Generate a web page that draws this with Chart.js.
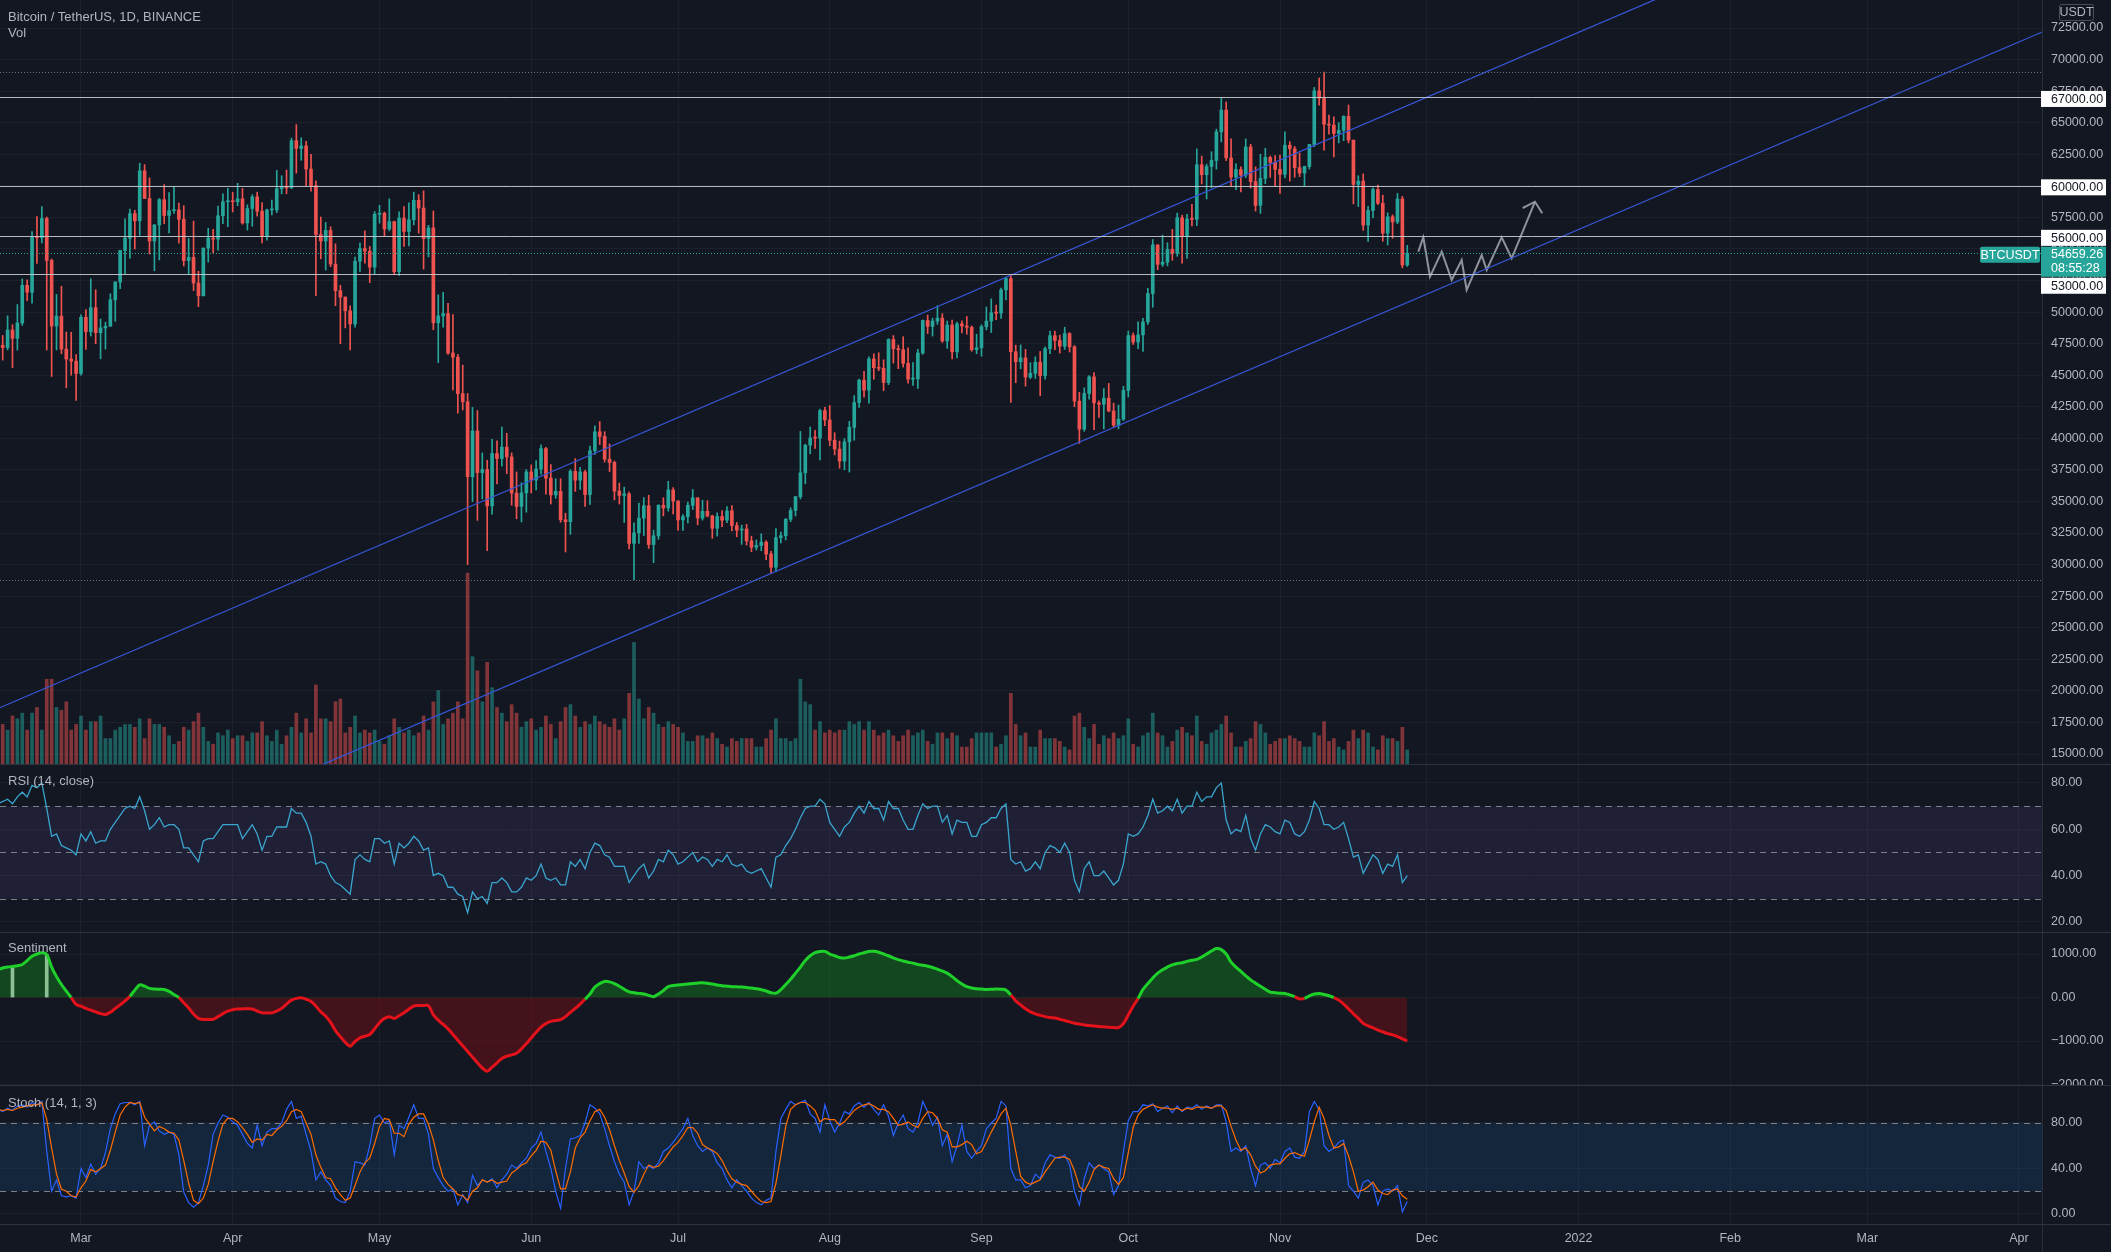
<!DOCTYPE html>
<html>
<head>
<meta charset="utf-8">
<title>BTCUSDT 1D</title>
<script src="https://cdn.jsdelivr.net/npm/chart.js@4.4.1/dist/chart.umd.min.js"></script>
<style>
  html, body { margin:0; padding:0; background:#131722; }
  #wrap { position:relative; width:2111px; height:1252px; background:#131722; overflow:hidden; }
  #wrap canvas { position:absolute; left:0; display:block; }
</style>
</head>
<body>
<div id="wrap">
  <canvas id="cMain" width="2111" height="764" style="top:0px;width:2111px;height:764px"></canvas>
  <canvas id="cRsi" width="2111" height="168" style="top:764px;width:2111px;height:168px"></canvas>
  <canvas id="cSent" width="2111" height="153" style="top:932px;width:2111px;height:153px"></canvas>
  <canvas id="cStoch" width="2111" height="167" style="top:1085px;width:2111px;height:167px"></canvas>
</div>
<script>
// ================= DATA (daily, first candle = firstDate, one value per day) =================
const firstDate = '2021-02-12';

const open = [
47900,47370,47190,48580,47920,49140,52120,51570,55920,55890,57410,54090,48890,49680,47070,46280,46110,
45140,49590,48440,50350,48370,48750,48880,50970,52380,54880,55860,57800,57230,61190,59000,55630,56900,58910,57650,58030,58100,57350,54080,54340,52300,51290,55070,55860,55780,57630,58740,
58790,58740,58970,57060,58200,59130,57990,56000,58090,58090,59770,59960,59840,63580,62960,63160,61330,60010,56150,55630,56470,53800,51700,51190,50100,49060,54030,55030,54830,53560,
57750,57830,56580,57170,53200,57440,56390,57310,58860,58240,55820,56670,49150,49700,49880,46760,46430,43540,42900,36960,40590,37280,37530,34650,38800,38400,39300,38530,35660,34610,35680,
37340,36690,37570,39190,36850,35520,35800,33550,33400,37390,36690,37340,35550,39020,40520,40150,38350,38090,35820,35480,35600,31680,32510,33680,34660,31590,32280,34700,34490,35910,
35040,33540,33800,34700,35290,33690,34220,33860,32880,33810,33520,34260,33090,32730,32820,31880,31380,31520,31780,30840,29790,32140,32290,33590,34290,35380,37270,39460,40030,40020,42200,
41460,39850,39150,38200,39720,40870,42840,44610,43820,46290,45600,45550,44420,47830,47100,47020,45940,44690,44710,46760,49340,48870,49290,49520,47710,48970,46850,49070,48900,48800,47020,
47170,48850,49290,49940,49920,51760,52660,46860,46070,46370,44850,45150,46030,44960,47100,48130,47750,47300,48300,47250,42950,40720,43550,44870,42810,42700,43180,42170,41030,41520,
43790,48140,47630,48200,49220,51470,55320,53790,53950,54960,54660,57470,56000,57370,57350,61670,60880,61530,62010,64280,66000,62210,60690,61290,60850,63080,60330,58450,60590,62250,61860,
61300,60910,63220,62930,61440,61010,61530,63270,67530,66940,64880,64810,64150,64400,65500,63620,60110,60370,56890,58050,59710,58620,56250,57550,57140,58960,53730
];
const high = [
48985,48150,49700,49000,50600,52620,52550,56370,57560,58350,57530,54200,51400,52050,48420,48400,46640,
49790,50200,52640,51770,49450,49200,51450,52400,54900,57390,58150,58060,61790,61680,60630,56940,58990,60100,59470,59880,58640,58430,55830,57200,53240,55080,56640,56560,58400,59370,59800,
59490,60200,59790,58500,59300,59500,58670,58150,58870,61220,60800,61250,63780,64850,63800,63520,62500,60400,57530,57100,56760,55400,52130,51200,50500,54350,55460,56430,55200,57960,
58460,57930,58970,57200,57940,58360,58650,59500,59300,59600,56870,58000,51370,51560,50700,49800,46650,45800,43550,42450,42200,38850,38270,39920,39800,40900,40400,38850,37340,36480,37530,
37900,38230,39480,39290,37920,36800,36800,34070,37530,38400,37700,37460,39380,41000,41330,40530,39560,38200,36460,36140,35750,33300,34880,35300,35500,32730,34750,35300,36600,36100,
35060,33970,34950,35950,35290,35100,35060,33910,34100,34270,34600,34680,33340,33130,33190,32250,31950,32440,31900,31060,32860,32580,33650,34500,35400,40550,39540,40900,40640,42320,42450,
42600,40450,39780,39970,41350,43390,44700,45310,46450,46700,46780,46220,47890,48140,47390,48050,47160,46000,47050,49380,49760,49520,50500,49880,49290,49360,49200,49300,49650,48900,48250,
49000,50400,51050,50560,51900,52780,52920,47380,47400,47040,45990,46460,46880,47250,48490,48500,48170,48800,48370,47350,43640,44000,44980,45200,42970,43950,44350,42790,42640,44130,
48500,48350,49230,49500,51890,55750,55330,56100,55490,56550,57840,57680,57750,58530,62930,62350,61720,62700,64490,67000,66640,63730,61750,61500,63710,63290,61500,62500,62980,62360,62400,
62440,64270,63500,63120,62600,61560,63290,67790,68530,69000,65600,65460,65000,65550,66400,63620,60800,60950,58370,59850,60050,59260,57870,57700,59400,59170,55280
];
const low = [
46400,46200,47000,45600,47000,48950,50900,50700,53860,55480,47000,44900,47000,46700,44000,45000,43000,
45000,47050,48100,47500,46300,47070,48880,49270,51850,53000,54270,55000,56080,59000,54600,53270,54130,57000,56270,57820,55450,53650,53000,51700,50430,51280,53960,54690,54900,57000,56770,
57930,58430,56960,56500,56800,57600,55470,55700,57700,57870,59360,59370,59770,61000,62020,60000,59580,51300,54220,53330,53600,50500,47500,48750,47000,48800,53220,53880,52330,53010,
57050,56030,56440,53000,52900,55200,55240,56900,56250,53400,54370,48600,46000,48800,46650,43830,42000,42250,30000,35000,33500,35200,31100,34000,36400,37800,37200,34700,33630,33380,34150,
35670,35920,37170,35570,34800,35250,33350,31000,32400,35800,35950,34600,34760,38730,39510,38120,37370,35130,34800,33340,31250,28800,31680,32300,31280,30150,32000,33860,34230,34020,
32710,32700,33310,34360,33150,33520,33770,32080,32260,33000,33330,32660,32200,31600,31550,31020,31160,31100,30400,29280,29480,31710,31950,33400,33850,35200,36400,38770,39200,38300,41000,
39420,38690,37640,37510,37330,39850,42450,43260,42780,44680,45350,43770,44250,45960,45520,45650,44380,44200,43960,46650,48300,48100,49030,47600,47120,46300,46380,48350,48250,46900,46700,
46510,48590,48380,49400,49500,50970,42840,44410,45510,44130,44720,44740,43370,44680,46700,47020,46750,47040,46840,42500,39600,40560,43100,40680,41650,40750,42100,40890,40750,41410,
43280,47430,47100,46890,49020,50380,53360,53620,53660,54100,54420,53880,54250,56820,56850,60150,58960,59850,61320,63480,62000,60000,59700,59510,60650,59820,58000,57820,60170,60670,59930,
59400,60620,60380,60680,60720,60000,61330,63100,66380,62820,64100,62280,63400,63580,63400,58570,58370,56470,55600,57460,58500,55610,55320,55840,57000,53500,53610
];
const close = [
47370,47190,48580,47920,49140,52120,51570,55920,55890,57410,54090,48890,49680,47070,46280,46110,45140,
49590,48440,50350,48370,48750,48880,50970,52380,54880,55860,57800,57230,61190,59000,55630,56900,58910,57650,58030,58100,57350,54080,54340,52300,51290,55070,55860,55780,57630,58740,58790,
58740,58970,57060,58200,59130,57990,56000,58090,58090,59770,59960,59840,63580,62960,63160,61330,60010,56150,55630,56470,53800,51700,51190,50100,49060,54030,55030,54830,53560,57750,
57830,56580,57170,53200,57440,56390,57310,58860,58240,55820,56670,49150,49700,49880,46760,46430,43540,42900,36960,40590,37280,37530,34650,38800,38400,39300,38530,35660,34610,35680,37340,
36690,37570,39190,36850,35520,35800,33550,33400,37390,36690,37340,35550,39020,40520,40150,38350,38090,35820,35480,35600,31680,32510,33680,34660,31590,32280,34700,34490,35910,35040,
33540,33800,34700,35290,33690,34220,33860,32880,33810,33520,34260,33090,32730,32820,31880,31380,31520,31780,30840,29790,32140,32290,33590,34290,35380,37270,39460,40030,40020,42200,41460,
39850,39150,38200,39720,40870,42840,44610,43820,46290,45600,45550,44420,47830,47100,47020,45940,44690,44710,46760,49340,48870,49290,49520,47710,48970,46850,49070,48900,48800,47020,47170,
48850,49290,49940,49920,51760,52660,46860,46070,46370,44850,45150,46030,44960,47100,48130,47750,47300,48300,47250,42950,40720,43550,44870,42810,42700,43180,42170,41030,41520,43790,
48140,47630,48200,49220,51470,55320,53790,53950,54960,54660,57470,56000,57370,57350,61670,60880,61530,62010,64280,66000,62210,60690,61290,60850,63080,60330,58450,60590,62250,61860,61300,
60910,63220,62930,61440,61010,61530,63270,67530,66940,64880,64810,64150,64400,65500,63620,60110,60370,56890,58050,59710,58620,56250,57550,57140,58960,53730,54659.26
];
// volume, thousand BTC
const volume = [
70,70,60,85,80,90,60,90,100,60,150,150,100,95,110,60,70,
85,60,75,75,85,45,45,60,65,70,70,65,80,45,80,70,70,65,50,35,40,65,60,75,90,65,40,35,55,50,60,
45,50,50,40,55,55,75,50,40,60,35,50,65,90,55,80,55,140,80,80,75,110,115,55,65,85,55,60,55,60,
40,35,50,80,65,55,60,50,55,85,60,110,130,70,80,90,110,80,338,190,165,110,180,135,100,90,75,105,90,65,75,
80,60,65,85,70,45,75,100,105,85,65,75,70,85,75,70,65,80,60,80,125,215,115,80,100,90,70,65,75,70,
65,55,40,40,50,50,45,55,45,35,30,45,40,45,45,45,30,30,45,60,80,45,45,40,45,150,110,105,60,75,55,
60,55,60,60,75,70,75,60,75,60,50,55,60,50,40,50,60,50,55,60,40,35,55,55,45,55,50,30,30,45,55,
55,55,55,30,35,50,125,70,50,55,30,30,60,45,45,45,40,30,25,85,90,65,45,70,35,50,45,55,45,50,
80,35,30,50,55,90,55,50,30,40,60,65,55,50,85,40,35,55,60,70,85,55,30,30,40,45,75,70,55,35,40,
45,45,50,45,40,30,30,55,50,75,40,45,30,25,40,60,45,60,55,30,25,50,45,45,40,65,25
];
const rsi = [
71,72,73,71,74,76,74,79,78,80,69,57,58,53,52,51,49,
58,55,59,54,55,55,60,63,66,69,70,69,74,68,60,62,65,61,62,62,60,52,52,49,46,55,56,56,59,62,62,
62,62,56,59,62,58,51,57,57,61,61,61,69,67,67,63,57,45,46,45,40,37,36,34,32,47,49,47,46,56,
56,54,55,45,54,52,54,57,55,51,52,40,41,40,35,35,32,31,24,33,30,31,28,37,37,39,37,33,33,35,39,
38,40,45,39,38,39,36,36,46,44,47,43,50,54,53,49,48,44,44,44,37,40,43,45,39,42,47,46,51,49,
45,46,48,50,46,48,47,44,47,46,49,45,44,45,42,41,42,43,39,35,48,49,53,56,60,65,69,70,70,73,71,
63,60,57,61,63,67,70,67,72,69,69,64,72,69,69,64,60,60,66,71,69,70,70,63,66,58,64,63,63,57,57,
62,63,65,65,69,71,47,45,46,42,43,46,43,50,53,52,50,54,50,38,33,43,46,40,40,42,39,36,38,45,
58,57,58,61,66,73,67,68,70,68,73,67,70,70,76,72,74,74,78,80,64,58,60,59,66,56,51,58,62,61,59,
58,64,63,58,57,59,64,72,69,62,62,60,61,63,56,48,49,41,45,49,47,41,45,44,49,37,40
];
const sentiment = [
640,680,700,715,730,760,850,950,1000,1027,989,700,480,300,146,0,-160,
-200,-250,-290,-330,-370,-390,-340,-250,-170,-80,30,170,290,260,210,195,190,184,140,70,0,-120,-240,-380,-480,-506,-506,-500,-440,-370,-315,
-280,-265,-261,-261,-265,-310,-353,-353,-353,-310,-250,-150,-60,-20,-7,-40,-90,-200,-330,-430,-570,-760,-900,-1030,-1119,-1010,-927,-890,-851,-720,
-580,-480,-440,-480,-420,-350,-270,-200,-184,-184,-190,-400,-520,-620,-720,-850,-980,-1110,-1240,-1370,-1500,-1620,-1693,-1600,-1500,-1400,-1349,-1320,-1280,-1180,-1060,
-930,-800,-680,-600,-550,-530,-510,-440,-340,-250,-150,-40,80,240,320,370,360,320,260,190,130,110,95,80,50,20,80,160,250,275,
290,299,310,320,335,340,330,310,290,270,260,250,245,240,230,220,200,180,150,110,100,180,300,420,560,700,850,960,1030,1060,1060,
1000,960,920,906,930,960,1000,1030,1060,1062,1040,1000,960,910,870,840,812,790,760,740,720,690,650,610,560,480,390,310,250,220,200,
195,187,190,195,190,170,60,-80,-170,-260,-330,-375,-410,-440,-460,-470,-500,-530,-560,-590,-610,-630,-645,-656,-665,-675,-685,-690,-690,-600,
-400,-200,-20,187,320,450,562,640,700,750,781,800,830,855,875,930,1000,1070,1125,1100,1000,812,700,600,500,406,330,260,190,125,110,
100,94,60,20,-31,-20,40,80,90,70,40,0,-60,-150,-260,-375,-480,-594,-650,-700,-750,-790,-830,-860,-900,-950,-1000
];
const stochK = [
92,90,93,91,95,96,94,98,96,99,55,20,30,16,15,16,14,
40,32,44,35,40,54,75,88,97,98,98,96,99,60,78,81,73,70,72,70,52,19,10,6,10,25,43,70,80,87,85,
81,78,70,62,58,78,60,72,75,75,80,92,99,84,86,70,55,30,37,30,25,14,11,10,20,46,45,43,60,84,
87,80,82,52,78,75,85,96,84,84,70,40,32,25,20,22,8,17,10,34,25,30,28,31,23,30,35,43,40,45,49,
58,62,72,55,40,20,5,40,66,67,69,80,96,93,88,75,60,46,35,28,8,20,46,40,42,40,45,55,58,63,
69,75,84,69,60,55,58,55,45,40,30,23,30,25,20,14,10,8,12,14,55,84,92,99,96,98,100,88,84,72,96,
82,72,80,90,88,95,98,94,98,92,87,96,86,69,80,87,75,72,80,99,90,78,85,60,70,46,60,78,55,49,55,
60,75,80,84,99,95,40,30,30,23,25,35,31,45,52,50,49,52,43,20,8,31,45,40,43,40,37,17,25,55,
82,90,90,96,95,97,90,93,95,89,95,90,94,93,96,92,95,93,96,96,81,55,58,55,60,40,25,43,45,40,48,
45,55,58,50,49,55,90,99,92,60,55,58,63,65,25,20,14,28,30,25,8,20,22,20,25,2,11
];
const stochD = [
92,91,92,91,93,94,95,96,96,98,83,58,35,22,20,16,15,
23,29,39,37,40,43,56,72,87,94,98,97,98,85,79,73,77,75,72,71,65,47,27,12,9,14,26,46,64,79,84,
84,81,76,70,63,66,65,70,69,74,77,82,90,92,90,80,70,52,41,32,31,23,17,12,14,25,37,45,49,62,
77,84,83,71,71,68,79,85,88,88,79,65,47,32,26,22,17,16,12,20,23,30,28,30,27,28,29,36,39,43,45,
51,56,64,63,56,38,22,22,37,58,67,72,82,90,92,85,74,60,47,36,24,19,25,35,43,41,42,47,53,59,
63,69,76,76,71,61,58,56,53,47,38,31,28,26,25,20,15,11,10,11,27,51,77,92,96,98,98,95,91,81,84,
83,83,78,81,86,91,94,96,97,95,92,92,90,84,78,79,81,78,76,84,90,89,84,74,72,59,59,61,64,61,53,
55,63,72,80,88,93,78,55,33,28,26,28,30,37,43,49,50,50,48,38,24,20,28,39,43,41,40,31,26,32,
54,76,87,92,94,96,94,93,93,92,93,91,93,92,94,94,94,93,95,95,91,77,65,56,58,52,42,36,38,43,44,
44,49,53,54,52,51,65,81,94,84,69,58,59,62,51,37,20,21,24,28,21,18,17,21,22,16,13
];
const sentimentMarkDates = ['2021-02-15', '2021-02-22'];
const sentimentMarkValues = [683, 989];

// drawings (in data units: date / price)
const levels = [67000, 60000, 56000, 53000];
const rangeHigh = 69000;
const rangeLow = 28800;
const lastPrice = 54659.26;
const lastPriceTimer = '08:55:28';
const symbolTag = 'BTCUSDT';
const currencyTag = 'USDT';
const titleText = 'Bitcoin / TetherUS, 1D, BINANCE';
const volumeLabel = 'Vol';
const channelUpper = [['2021-03-01', 21415], ['2021-09-07', 52920]];
const channelLower = [['2021-07-20', 29300], ['2021-09-21', 39700]];
// projected path, days after 2021-03-01 and price
const projDays   = [273.26, 274.28, 275.65, 278.04, 280.08, 282.12, 283.14, 286.21, 287.23, 290.29, 292.34, 297.10];
const projPrices = [54783, 55924, 52803, 54783, 52542, 54126, 51750, 54522, 53334, 55924, 54260, 58744];
const arrowDays   = [294.59, 297.10, 298.59];
const arrowPrices = [58243, 58744, 57825];

// axes
const monthTickDates = ['2021-03-01','2021-04-01','2021-05-01','2021-06-01','2021-07-01','2021-08-01','2021-09-01','2021-10-01','2021-11-01','2021-12-01','2022-01-01','2022-02-01','2022-03-01','2022-04-01'];
const monthTickLabels = ['Mar','Apr','May','Jun','Jul','Aug','Sep','Oct','Nov','Dec','2022','Feb','Mar','Apr'];
const priceTicks = [15000,17500,20000,22500,25000,27500,30000,32500,35000,37500,40000,42500,45000,47500,50000,52500,55000,57500,60000,62500,65000,67500,70000,72500];
const rsiTicks = [80, 60, 40, 20];
const sentimentTicks = [1000, 0, -1000, -2000];
const stochTicks = [80, 40, 0];

// view ranges
const viewStart = -16.55, viewEnd = 400.7;   // days relative to 2021-03-01
const priceRange = [14208, 74718];
const volumeAxisMax = 1352;
const rsiRange = [15.68, 88.2];
const sentimentRange = [-2011, 1506];
const stochRange = [-8.8, 113.4];

// ================= RENDERING =================
const FF = "'Liberation Sans', Arial, sans-serif";
const BG = '#131722', TEXT = '#b2b5be', GRID = '#1c202b', SEP = '#2a2e39', DASH = '#7c7f88';
const UP = '#26a69a', DOWN = '#ef5350';
const FS = 12.5;      // axis / price labels
const FS_T = 13;      // pane titles

const DAY = 86400000;
const BASE = Date.UTC(2021, 2, 1);
const dayOf = s => { const p = s.split('-').map(Number); return (Date.UTC(p[0], p[1] - 1, p[2]) - BASE) / DAY; };
const x0 = dayOf(firstDate);
const xs = close.map((_, i) => x0 + i);
const monthTicks = monthTickDates.map(dayOf);

function extendLine(anchors) {
  const xa = dayOf(anchors[0][0]), ya = anchors[0][1];
  const xb = dayOf(anchors[1][0]), yb = anchors[1][1];
  const k = (yb - ya) / (xb - xa);
  const l = viewStart - 10, r = viewEnd + 10;
  return [{x: l, y: ya + k * (l - xa)}, {x: r, y: ya + k * (r - xa)}];
}

function makeX(showLabels) {
  return {
    type: 'linear', min: viewStart, max: viewEnd, offset: false,
    afterBuildTicks: s => { s.ticks = monthTicks.map(v => ({value: v})); },
    afterFit: s => { s.height = showLabels ? 28 : 0; s.paddingLeft = 0; s.paddingRight = 0; },
    ticks: { display: showLabels, autoSkip: false, maxRotation: 0, color: TEXT, padding: 7,
             font: {family: FF, size: FS}, callback: (v, i) => monthTickLabels[i] },
    grid: { color: GRID, drawTicks: false, offset: false, lineWidth: 1 },
    border: { display: false }
  };
}
function makeY(range, ticks, fmt) {
  return {
    position: 'right', min: range[0], max: range[1],
    afterBuildTicks: s => { s.ticks = ticks.map(v => ({value: v})); },
    afterFit: s => { s.width = 69; s.paddingTop = 0; s.paddingBottom = 0; },
    ticks: { autoSkip: false, color: TEXT, padding: 9, font: {family: FF, size: FS}, callback: v => fmt(v) },
    grid: { color: GRID, drawTicks: false },
    border: { display: true, color: SEP, width: 1 }
  };
}
const fmt2 = v => (v < 0 ? '\u2212' + Math.abs(v).toFixed(2) : v.toFixed(2));

const common = {
  responsive: false, animation: false, devicePixelRatio: 1, events: [],
  layout: { padding: 0 },
  plugins: { legend: {display: false}, tooltip: {enabled: false}, title: {display: false} }
};

const bgPlugin = { id: 'bg', beforeDraw(c) { const x = c.ctx; x.save(); x.fillStyle = BG; x.fillRect(0, 0, c.width, c.height); x.restore(); } };

function hline(ctx, x1, x2, y) { ctx.beginPath(); ctx.moveTo(x1, y); ctx.lineTo(x2, y); ctx.stroke(); }
function text(ctx, s, x, y, color, align, size) {
  ctx.fillStyle = color; ctx.font = (size || FS) + 'px ' + FF; ctx.textAlign = align || 'left'; ctx.textBaseline = 'middle'; ctx.fillText(s, x, y);
}
function rrect(ctx, x, y, w, h, r) {
  ctx.beginPath(); ctx.moveTo(x + r, y); ctx.lineTo(x + w - r, y); ctx.quadraticCurveTo(x + w, y, x + w, y + r);
  ctx.lineTo(x + w, y + h - r); ctx.quadraticCurveTo(x + w, y + h, x + w - r, y + h); ctx.lineTo(x + r, y + h);
  ctx.quadraticCurveTo(x, y + h, x, y + h - r); ctx.lineTo(x, y + r); ctx.quadraticCurveTo(x, y, x + r, y); ctx.closePath();
}

// ---------- main pane ----------
const isUp = close.map((c, i) => c >= open[i]);
const mainOverlay = {
  id: 'mainOverlay',
  afterDatasetsDraw(c) {
    const {ctx, chartArea: a, scales: {y}} = c;
    ctx.save();
    ctx.lineWidth = 1;
    ctx.strokeStyle = 'rgba(200,203,210,0.9)';
    levels.forEach(v => hline(ctx, a.left, a.right, Math.round(y.getPixelForValue(v)) + 0.5));
    ctx.setLineDash([1, 2]);
    ctx.strokeStyle = '#6f727c';
    [rangeHigh, rangeLow].forEach(v => hline(ctx, a.left, a.right, Math.round(y.getPixelForValue(v)) + 0.5));
    ctx.strokeStyle = UP;
    hline(ctx, a.left, a.right, Math.round(y.getPixelForValue(lastPrice)) + 0.5);
    ctx.restore();
  },
  afterDraw(c) {
    const {ctx, chartArea: a, scales: {y}} = c;
    ctx.save();
    text(ctx, titleText, 8, 17, TEXT, 'left', FS_T);
    text(ctx, volumeLabel, 8, 33.5, TEXT, 'left', FS_T);
    const bx = a.right - 1, bw = 65, tx = a.right + 9;
    const py = y.getPixelForValue(lastPrice);
    const pTop = py - 6.5, pH = 30;
    ctx.fillStyle = UP; ctx.fillRect(bx, pTop, bw, pH);
    text(ctx, lastPrice.toFixed(2), tx, py + 1, '#ffffff');
    text(ctx, lastPriceTimer, tx, py + 15, '#ffffff');
    ctx.fillStyle = UP; rrect(ctx, a.right - 62, pTop, 60, 16, 2); ctx.fill();
    text(ctx, symbolTag, a.right - 32, pTop + 8.5, '#ffffff', 'center');
    levels.forEach(v => {
      let top = y.getPixelForValue(v) - 6.5;
      if (top < pTop + pH && top + 16 > pTop) top = pTop + pH + 1;
      ctx.fillStyle = '#ffffff'; ctx.fillRect(bx, top, bw, 16);
      text(ctx, v.toFixed(2), tx, top + 8.5, '#131722');
    });
    ctx.fillStyle = BG; rrect(ctx, a.right + 17.5, 4.5, 34, 16, 2); ctx.fill();
    ctx.strokeStyle = '#4a4e59'; ctx.lineWidth = 1; ctx.stroke();
    text(ctx, currencyTag, a.right + 34.5, 13, TEXT, 'center');
    ctx.restore();
  }
};

new Chart(document.getElementById('cMain'), {
  type: 'bar',
  data: { datasets: [
    { type: 'line', data: extendLine(channelUpper), borderColor: '#3656d2', borderWidth: 1.3, pointRadius: 0, order: 0 },
    { type: 'line', data: extendLine(channelLower), borderColor: '#3656d2', borderWidth: 1.3, pointRadius: 0, order: 0 },
    { type: 'line', data: projDays.map((d, i) => ({x: d, y: projPrices[i]})), borderColor: 'rgba(150,153,161,0.95)', borderWidth: 2, pointRadius: 0, order: 0 },
    { type: 'line', data: arrowDays.map((d, i) => ({x: d, y: arrowPrices[i]})), borderColor: 'rgba(150,153,161,0.95)', borderWidth: 2, pointRadius: 0, order: 0 },
    { type: 'bar', data: xs.map((x, i) => ({x: x, y: [open[i], close[i]]})), backgroundColor: isUp.map(u => u ? UP : DOWN),
      barThickness: 3, minBarLength: 1, grouped: false, order: 2 },
    { type: 'bar', data: xs.map((x, i) => ({x: x, y: [low[i], high[i]]})), backgroundColor: isUp.map(u => u ? UP : DOWN),
      barThickness: 1, grouped: false, order: 3 },
    { type: 'bar', yAxisID: 'yv', data: xs.map((x, i) => ({x: x, y: volume[i]})), backgroundColor: isUp.map(u => u ? 'rgba(38,166,154,0.5)' : 'rgba(239,83,80,0.5)'),
      barThickness: 3, grouped: false, order: 4 }
  ]},
  options: Object.assign({}, common, {
    scales: {
      x: makeX(false),
      y: makeY(priceRange, priceTicks, v => v.toFixed(2)),
      yv: { display: false, min: 0, max: volumeAxisMax }
    }
  }),
  plugins: [bgPlugin, mainOverlay]
});

// ---------- indicator panes ----------
function panePlugin(id, label, band, dashed, bandColor) {
  return {
    id,
    beforeDatasetsDraw(c) {
      if (!band) return;
      const {ctx, chartArea: a, scales: {y}} = c;
      ctx.save();
      const t = y.getPixelForValue(band[1]), b = y.getPixelForValue(band[0]);
      ctx.fillStyle = bandColor; ctx.fillRect(a.left, t, a.right - a.left, b - t);
      ctx.strokeStyle = DASH; ctx.lineWidth = 1; ctx.setLineDash([6, 5]);
      dashed.forEach(v => hline(ctx, a.left, a.right, Math.round(y.getPixelForValue(v)) + 0.5));
      ctx.restore();
    },
    afterDraw(c) {
      const {ctx, chartArea: a} = c;
      ctx.save();
      ctx.strokeStyle = '#2f333e'; ctx.lineWidth = 1;
      hline(ctx, 0, c.width, 0.5);
      if (id === 'stochPane') {
        hline(ctx, 0, c.width, Math.round(a.bottom) + 0.5);
        ctx.strokeStyle = SEP;
        ctx.beginPath(); ctx.moveTo(a.right + 0.5, a.bottom); ctx.lineTo(a.right + 0.5, c.height); ctx.stroke();
      }
      text(ctx, label, 8, id === 'rsiPane' ? 17 : (id === 'sentPane' ? 16 : 18), TEXT, 'left', FS_T);
      ctx.restore();
    }
  };
}

new Chart(document.getElementById('cRsi'), {
  type: 'line',
  data: { datasets: [
    { data: xs.map((x, i) => ({x: x, y: rsi[i]})), borderColor: '#3aa6cf', borderWidth: 1.3, pointRadius: 0, tension: 0, fill: false }
  ]},
  options: Object.assign({}, common, {
    scales: { x: makeX(false), y: makeY(rsiRange, rsiTicks, v => v.toFixed(2)) }
  }),
  plugins: [bgPlugin, panePlugin('rsiPane', 'RSI (14, close)', [30, 70], [70, 50, 30], 'rgba(126,87,194,0.12)')]
});

const GREEN = '#1fd02b', RED = '#e3121b';
new Chart(document.getElementById('cSent'), {
  type: 'line',
  data: { datasets: [
    { type: 'line', data: xs.map((x, i) => ({x: x, y: sentiment[i]})), borderWidth: 3, pointRadius: 0, tension: 0.35,
      borderColor: GREEN,
      segment: { borderColor: s => (s.p0.parsed.y + s.p1.parsed.y >= 0 ? GREEN : RED) },
      fill: { target: {value: 0}, above: 'rgba(20,150,30,0.38)', below: 'rgba(150,10,15,0.38)' }, order: 1 },
    { type: 'bar', data: sentimentMarkDates.map((d, i) => ({x: dayOf(d), y: sentimentMarkValues[i]})),
      backgroundColor: '#d6d8de', barThickness: 3, grouped: false, order: 2 }
  ]},
  options: Object.assign({}, common, {
    scales: { x: makeX(false), y: makeY(sentimentRange, sentimentTicks, fmt2) }
  }),
  plugins: [bgPlugin, panePlugin('sentPane', 'Sentiment', null, [], null)]
});

new Chart(document.getElementById('cStoch'), {
  type: 'line',
  data: { datasets: [
    { data: xs.map((x, i) => ({x: x, y: stochK[i]})), borderColor: '#2962ff', borderWidth: 1.2, pointRadius: 0, tension: 0, order: 2 },
    { data: xs.map((x, i) => ({x: x, y: stochD[i]})), borderColor: '#ff6d00', borderWidth: 1.2, pointRadius: 0, tension: 0, order: 1 }
  ]},
  options: Object.assign({}, common, {
    scales: { x: makeX(true), y: makeY(stochRange, stochTicks, v => v.toFixed(2)) }
  }),
  plugins: [bgPlugin, panePlugin('stochPane', 'Stoch (14, 1, 3)', [20, 80], [80, 20], 'rgba(33,150,243,0.12)')]
});
</script>
</body>
</html>
